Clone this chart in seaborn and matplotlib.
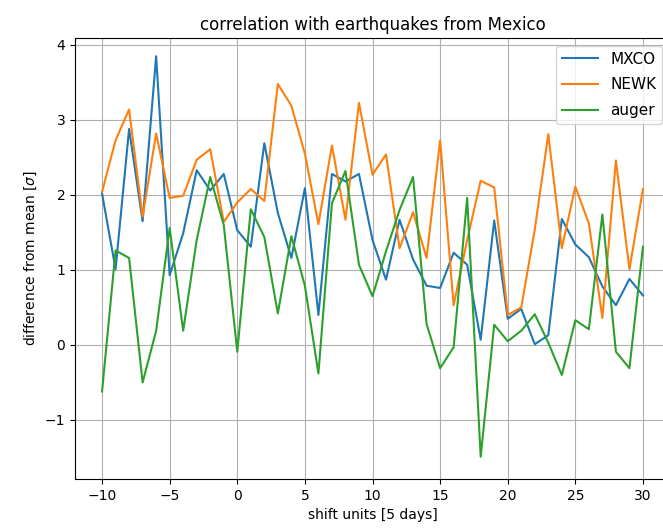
import numpy as np
import pandas as pd
import matplotlib
matplotlib.use("Agg")
import matplotlib.pyplot as plt
import seaborn as sns

shift = list(range(-10, 31))

mxco = [2.02, 1.01, 2.88, 1.65, 3.85, 0.93, 1.49, 2.33, 2.06, 2.28,
        1.53, 1.31, 2.69, 1.76, 1.16, 2.09, 0.40, 2.28, 2.18, 2.28,
        1.40, 0.87, 1.67, 1.14, 0.79, 0.76, 1.23, 1.07, 0.07, 1.66,
        0.35, 0.48, 0.01, 0.13, 1.68, 1.34, 1.17, 0.78, 0.53, 0.88,
        0.66]

newk = [2.04, 2.73, 3.14, 1.71, 2.82, 1.96, 1.99, 2.47, 2.61, 1.64,
        1.90, 2.08, 1.92, 3.48, 3.19, 2.55, 1.61, 2.66, 1.67, 3.23,
        2.27, 2.54, 1.29, 1.77, 1.16, 2.73, 0.53, 1.40, 2.19, 2.10,
        0.40, 0.50, 1.54, 2.81, 1.29, 2.11, 1.62, 0.36, 2.46, 1.01,
        2.08]

auger = [-0.62, 1.26, 1.16, -0.50, 0.19, 1.56, 0.19, 1.40, 2.24, 1.60,
         -0.09, 1.81, 1.44, 0.42, 1.45, 0.79, -0.38, 1.89, 2.32, 1.07,
         0.65, 1.25, 1.80, 2.24, 0.28, -0.31, -0.03, 1.96, -1.49, 0.27,
         0.05, 0.19, 0.41, 0.03, -0.40, 0.33, 0.21, 1.74, -0.09, -0.31,
         1.31]

series_names = ["MXCO", "NEWK", "auger"]
series_values = [mxco, newk, auger]

frames = []
for name, vals in zip(series_names, series_values):
    frames.append(pd.DataFrame({"shift": shift, "value": vals, "station": name}))
df = pd.concat(frames, ignore_index=True)

fig = plt.figure(figsize=(6.63, 5.32), dpi=100)
ax = fig.add_axes([75 / 663, 53 / 532, 595 / 663, 441 / 532])

sns.lineplot(data=df, x="shift", y="value", hue="station",
             palette=["#1f77b4", "#ff7f0e", "#2ca02c"], linewidth=1.5,
             ax=ax, legend=True)

handles, labels = ax.get_legend_handles_labels()
ax.legend(handles, labels, loc="upper right", fontsize=11,
          labelspacing=0.7, handlelength=2.35)

ax.grid(True)
ax.set_xlim(-12, 32)
ax.set_ylim(-1.787, 4.093)
ax.set_title("correlation with earthquakes from Mexico")
ax.set_xlabel("shift units [5 days]")
ax.set_ylabel(r"difference from mean [$\sigma$]")

fig.savefig("out.png", dpi=100)
